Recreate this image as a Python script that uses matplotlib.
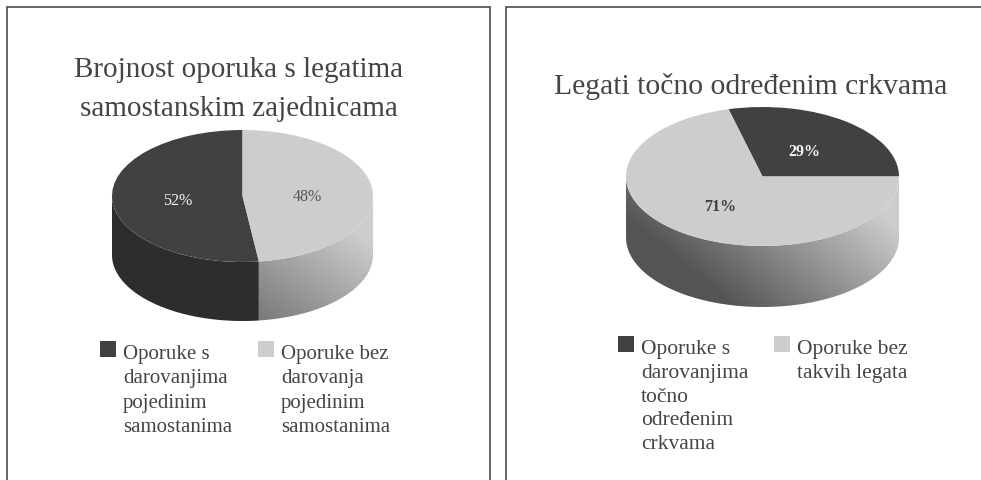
import numpy as np
import matplotlib
matplotlib.use("Agg")
import matplotlib.pyplot as plt
from matplotlib.patches import Polygon, Rectangle

plt.rcParams['font.family'] = ['Liberation Serif', 'DejaVu Serif']

W, H = 981, 481
TEXT = '#454547'
DARK = '#414143'
LIGHT = '#cccdcf'
DARK_WALL = '#2e2c2d'

left_title = 'Brojnost oporuka s legatima\nsamostanskim zajednicama'
left_values = [52, 48]
left_legend = ['Oporuke s\ndarovanjima\npojedinim\nsamostanima',
               'Oporuke bez\ndarovanja\npojedinim\nsamostanima']

right_title = 'Legati točno određenim crkvama'
right_values = [29, 71]
right_legend = ['Oporuke s\ndarovanjima\ntočno\nodređenim\ncrkvama',
                'Oporuke bez\ntakvih legata']

fig = plt.figure(figsize=(W / 100, H / 100), dpi=100, facecolor='white')

# pixel coordinates for the frames, titles and legends
bg = fig.add_axes([0, 0, 1, 1])
bg.set_xlim(0, W)
bg.set_ylim(H, 0)
bg.axis('off')


def draw_pie(values, startangle, cx, cy, rx, ry, depth, grad, label_colors, weight):
    d = depth / ry
    ax = fig.add_axes([(cx - rx) / W, 1 - (cy + ry + depth) / H, 2 * rx / W, (2 * ry + depth) / H])
    wedges, _, autotexts = ax.pie(values, colors=[DARK, LIGHT], startangle=startangle,
                                  autopct='%.0f%%', pctdistance=0.5, radius=1)
    ax.set_aspect('auto')

    for txt, col in zip(autotexts, label_colors):
        txt.set_color(col)
        txt.set_fontsize(11.5)
        txt.set_fontweight(weight)
        txt.set_y(txt.get_position()[1] - 2 / ry)

    # side wall under the lower half of every slice
    c, a, b, lo, hi = grad
    u, v = np.meshgrid(np.linspace(-1, 1, 300), np.linspace(-1, 1 + d, 200))
    shade = np.clip(c + a * u + b * v, lo, hi) / 255.0
    for i, w in enumerate(wedges):
        t1 = np.clip(w.theta1, 180, 360)
        t2 = np.clip(w.theta2, 180, 360)
        if t2 <= t1:
            continue
        t = np.radians(np.linspace(t1, t2, 200))
        top = np.column_stack([np.cos(t), np.sin(t)])
        bot = np.column_stack([np.cos(t), np.sin(t) - d])[::-1]
        poly = Polygon(np.vstack([top, bot]), closed=True, transform=ax.transData,
                       facecolor=DARK_WALL, edgecolor='none', zorder=0.5)
        ax.add_patch(poly)
        if i == 1:
            poly.set_facecolor('none')
            im = ax.imshow(shade, cmap='gray', vmin=0, vmax=1, extent=(-1, 1, -1 - d, 1),
                           aspect='auto', zorder=0.5)
            im.set_clip_path(poly)
    ax.set_xlim(-1, 1)
    ax.set_ylim(-1 - d, 1)
    ax.axis('off')


def draw_legend(entries, xs, y, size):
    for x, entry, col in zip(xs, entries, [DARK, LIGHT]):
        bg.add_patch(Rectangle((x, y), 16, 16, facecolor=col, edgecolor='none'))
        bg.text(x + 23, y + 3, entry, fontsize=size, color=TEXT, va='top', ha='left',
                linespacing=1.34 * 15.5 / size)


# frames run off the page at the bottom and right
bg.plot([7, 7, 490, 490], [H, 8, 8, H], color='#4a4a4a', lw=1.2, solid_joinstyle='miter')
bg.plot([506, 506, W], [H, 8, 8], color='#4a4a4a', lw=1.2, solid_joinstyle='miter')

bg.text(239, 89.5, left_title, fontsize=21, color=TEXT, ha='center', va='center', linespacing=1.68)
bg.text(751, 87, right_title, fontsize=21.3, color=TEXT, ha='center', va='center')

draw_pie(left_values, 90, 242.5, 197, 130.5, 66, 59, (180, 50, -35, 105, 205),
         ['#f2f2f2', '#555557'], 'normal')
draw_pie(right_values, 0, 762.5, 177.5, 136.5, 69.5, 61, (170, 63, -38, 85, 205),
         ['#f5f5f5', '#3f3f41'], 'bold')

draw_legend(left_legend, [100, 258], 342, 15)
draw_legend(right_legend, [618, 774], 337, 15.5)

fig.savefig('out.png', dpi=100, facecolor='white')
